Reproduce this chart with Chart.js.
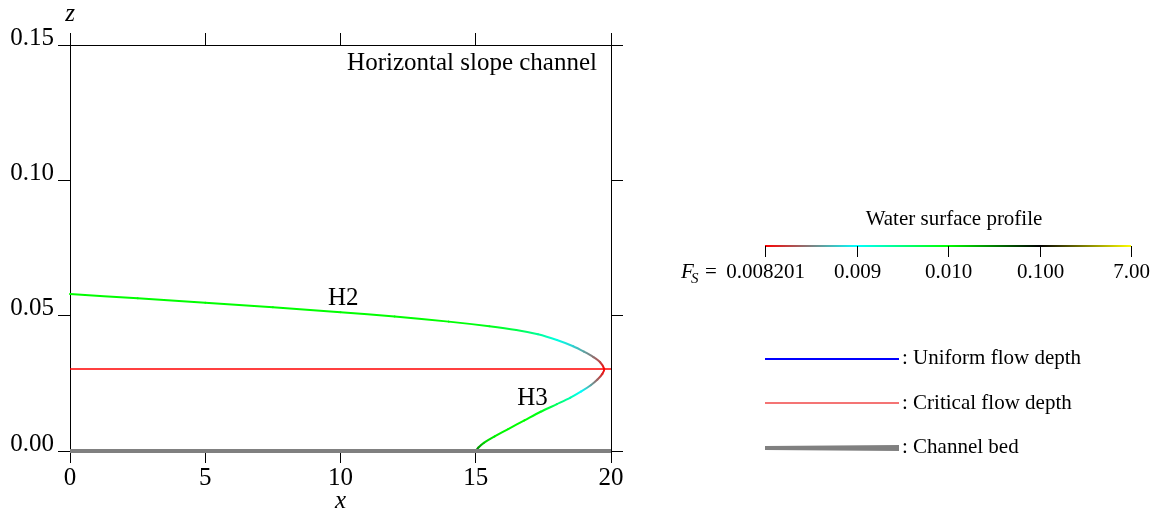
<!DOCTYPE html>
<html>
<head>
<meta charset="utf-8">
<title>Horizontal slope channel</title>
<script src="https://cdn.jsdelivr.net/npm/chart.js@4.4.0/dist/chart.umd.min.js"></script>
<style>
  html, body { margin: 0; padding: 0; background: #fff; }
  canvas { display: block; }
</style>
</head>
<body>
<canvas id="myGraphic" width="1159" height="518"></canvas>
<script>
// H2 branch: from the upstream end to the critical point
var h2X  = [0, 2.5, 5, 7.5, 10, 12, 14, 15.5, 16.5, 17.3, 18.0, 18.6, 19.0, 19.35, 19.6, 19.75];
var h2Z  = [0.0580, 0.0564, 0.0548, 0.0531, 0.0513, 0.0497, 0.0478, 0.0461, 0.0447, 0.0431, 0.0410, 0.0387, 0.0367, 0.0347, 0.0328, 0.0303];
var h2Fs = [0.0102, 0.0101, 0.0101, 0.0100, 0.0100, 0.0100, 0.0100, 0.0099, 0.0097, 0.0094, 0.0091, 0.00885, 0.0087, 0.00855, 0.0084, 0.008201];

// H3 branch: from the bed up to the critical point
var h3X  = [15.0, 15.1, 15.3, 15.7, 16.2, 16.8, 17.4, 18.0, 18.5, 18.9, 19.25, 19.5, 19.68, 19.75];
var h3Z  = [0.0, 0.0013, 0.0030, 0.0054, 0.0081, 0.0113, 0.0145, 0.0173, 0.0197, 0.0220, 0.0243, 0.0264, 0.0285, 0.0303];
var h3Fs = [0.04, 0.025, 0.015, 0.0115, 0.0103, 0.0100, 0.0099, 0.0096, 0.0093, 0.0090, 0.0087, 0.0085, 0.0083, 0.008201];

var criticalDepth = 0.0303;
var channelX = [0, 20];
var bedZ = [0, 0];

// colour scale for Fs
var fsStops  = [0.008201, 0.009, 0.010, 0.100, 7.00];
var fsLabels = ['0.008201', '0.009', '0.010', '0.100', '7.00'];
var fsColors = [[255, 0, 0], [0, 255, 255], [0, 255, 0], [0, 0, 0], [255, 255, 0]];

var serif = "'Liberation Serif', 'Times New Roman', serif";

function fsColor(fs) {
    var i = 0;
    while (i < fsStops.length - 2 && fs > fsStops[i + 1]) i++;
    var t = Math.log(fs / fsStops[i]) / Math.log(fsStops[i + 1] / fsStops[i]);
    t = Math.max(0, Math.min(1, t));
    var a = fsColors[i], b = fsColors[i + 1];
    return 'rgb(' + a.map(function (v, k) { return Math.round(v + (b[k] - v) * t); }).join(',') + ')';
}

// one continuous curve: H2 down to the critical point, then back along H3
var surface = h2X.map(function (x, i) { return { x: x, y: h2Z[i], fs: h2Fs[i] }; });
for (var i = h3X.length - 2; i >= 0; i--) {
    surface.push({ x: h3X[i], y: h3Z[i], fs: h3Fs[i] });
}

var decorations = {
    id: 'decorations',
    afterDraw: function (chart) {
        var ctx = chart.ctx, area = chart.chartArea;
        var sx = chart.scales.x, sy = chart.scales.y;
        ctx.save();
        ctx.fillStyle = '#000';
        ctx.textBaseline = 'alphabetic';

        // axis names
        ctx.font = 'italic 25px ' + serif;
        ctx.textAlign = 'center';
        ctx.fillText('z', area.left, 21);
        ctx.fillText('x', (area.left + area.right) / 2, 508);

        ctx.font = '25px ' + serif;
        ctx.textAlign = 'right';
        ctx.fillText('Horizontal slope channel', area.right - 14, 70);

        ctx.textAlign = 'center';
        ctx.fillText('H2', sx.getPixelForValue(10.1), sy.getPixelForValue(0.0539));
        ctx.fillText('H3', sx.getPixelForValue(17.1), sy.getPixelForValue(0.0170));

        // colour bar
        var x0 = 765, x1 = 1131, yb = 246;
        ctx.font = '21px ' + serif;
        ctx.fillText('Water surface profile', 954, 225);
        var g = ctx.createLinearGradient(x0, 0, x1, 0);
        fsColors.forEach(function (c, k) {
            g.addColorStop(k / (fsColors.length - 1), 'rgb(' + c.join(',') + ')');
        });
        ctx.fillStyle = g;
        ctx.fillRect(x0, yb - 1, x1 - x0, 2);
        ctx.strokeStyle = '#000';
        ctx.lineWidth = 1;
        ctx.fillStyle = '#000';
        fsLabels.forEach(function (lab, k) {
            var tx = Math.round(x0 + (x1 - x0) * k / (fsLabels.length - 1)) + 0.5;
            ctx.beginPath();
            ctx.moveTo(tx, yb);
            ctx.lineTo(tx, yb + 11);
            ctx.stroke();
            ctx.fillText(lab, tx, 277.5);
        });
        ctx.textAlign = 'left';
        ctx.font = 'italic 21px ' + serif;
        ctx.fillText('F', 681, 277.5);
        ctx.font = 'italic 15px ' + serif;
        ctx.fillText('S', 691, 283);
        ctx.font = '21px ' + serif;
        ctx.fillText('=', 705, 277.5);

        // line legend
        ctx.lineWidth = 2;
        ctx.strokeStyle = '#0000ff';
        ctx.beginPath(); ctx.moveTo(765, 359); ctx.lineTo(899, 359); ctx.stroke();
        ctx.strokeStyle = '#f47474';
        ctx.beginPath(); ctx.moveTo(765, 403); ctx.lineTo(899, 403); ctx.stroke();
        ctx.fillStyle = '#808080';
        ctx.beginPath();
        ctx.moveTo(765, 446); ctx.lineTo(899, 445);
        ctx.lineTo(899, 451); ctx.lineTo(765, 450);
        ctx.closePath(); ctx.fill();

        ctx.fillStyle = '#000';
        ctx.fillText(': Uniform flow depth', 902, 364);
        ctx.fillText(': Critical flow depth', 902, 409);
        ctx.fillText(': Channel bed', 902, 453);
        ctx.restore();
    }
};

function axisGrid() {
    return { drawOnChartArea: false, drawTicks: true, tickLength: 12, color: '#000', lineWidth: 1 };
}

Chart.defaults.font.family = serif;
Chart.defaults.color = '#000';

var myChart = new Chart(document.getElementById('myGraphic'), {
    type: 'scatter',
    data: {
        datasets: [{
            label: 'Channel bed',
            data: channelX.map(function (x, k) { return { x: x, y: bedZ[k] }; }),
            showLine: true,
            borderColor: '#808080',
            borderWidth: 4,
            pointRadius: 0,
            clip: 6
        }, {
            label: 'Water surface profile',
            data: surface,
            showLine: true,
            borderWidth: 2,
            borderCapStyle: 'round',
            borderJoinStyle: 'round',
            tension: 0.3,
            pointRadius: 0,
            clip: 6,
            segment: {
                borderColor: function (c) {
                    var grad = c.chart.ctx.createLinearGradient(c.p0.x, c.p0.y, c.p1.x, c.p1.y);
                    grad.addColorStop(0, fsColor(surface[c.p0DataIndex].fs));
                    grad.addColorStop(1, fsColor(surface[c.p1DataIndex].fs));
                    return grad;
                }
            }
        }, {
            label: 'Critical flow depth',
            data: channelX.map(function (x) { return { x: x, y: criticalDepth }; }),
            showLine: true,
            borderColor: '#ff0000',
            borderWidth: 1.5,
            pointRadius: 0
        }]
    },
    options: {
        responsive: false,
        animation: false,
        layout: { padding: { left: 0, top: 0, right: 536, bottom: 0 } },
        plugins: {
            legend: { display: false },
            tooltip: { enabled: false }
        },
        scales: {
            x: {
                type: 'linear', position: 'bottom', min: 0, max: 20,
                ticks: { stepSize: 5, font: { size: 25 }, color: '#000', padding: 0, maxRotation: 0 },
                grid: axisGrid(),
                border: { display: true, color: '#000', width: 1 },
                afterFit: function (s) { s.height = 67; }
            },
            x2: {
                type: 'linear', position: 'top', min: 0, max: 20,
                ticks: { stepSize: 5, display: false },
                grid: axisGrid(),
                border: { display: true, color: '#000', width: 1 },
                afterFit: function (s) { s.height = 45; }
            },
            y: {
                type: 'linear', position: 'left', min: 0, max: 0.15,
                ticks: {
                    stepSize: 0.05, font: { size: 25 }, color: '#000', padding: 4, labelOffset: -7,
                    callback: function (v) { return v.toFixed(2); }
                },
                grid: axisGrid(),
                border: { display: true, color: '#000', width: 1 },
                afterFit: function (s) { s.width = 70; }
            },
            y2: {
                type: 'linear', position: 'right', min: 0, max: 0.15,
                ticks: { stepSize: 0.05, display: false },
                grid: axisGrid(),
                border: { display: true, color: '#000', width: 1 },
                afterFit: function (s) { s.width = 12; }
            }
        }
    },
    plugins: [decorations]
});
</script>
</body>
</html>
